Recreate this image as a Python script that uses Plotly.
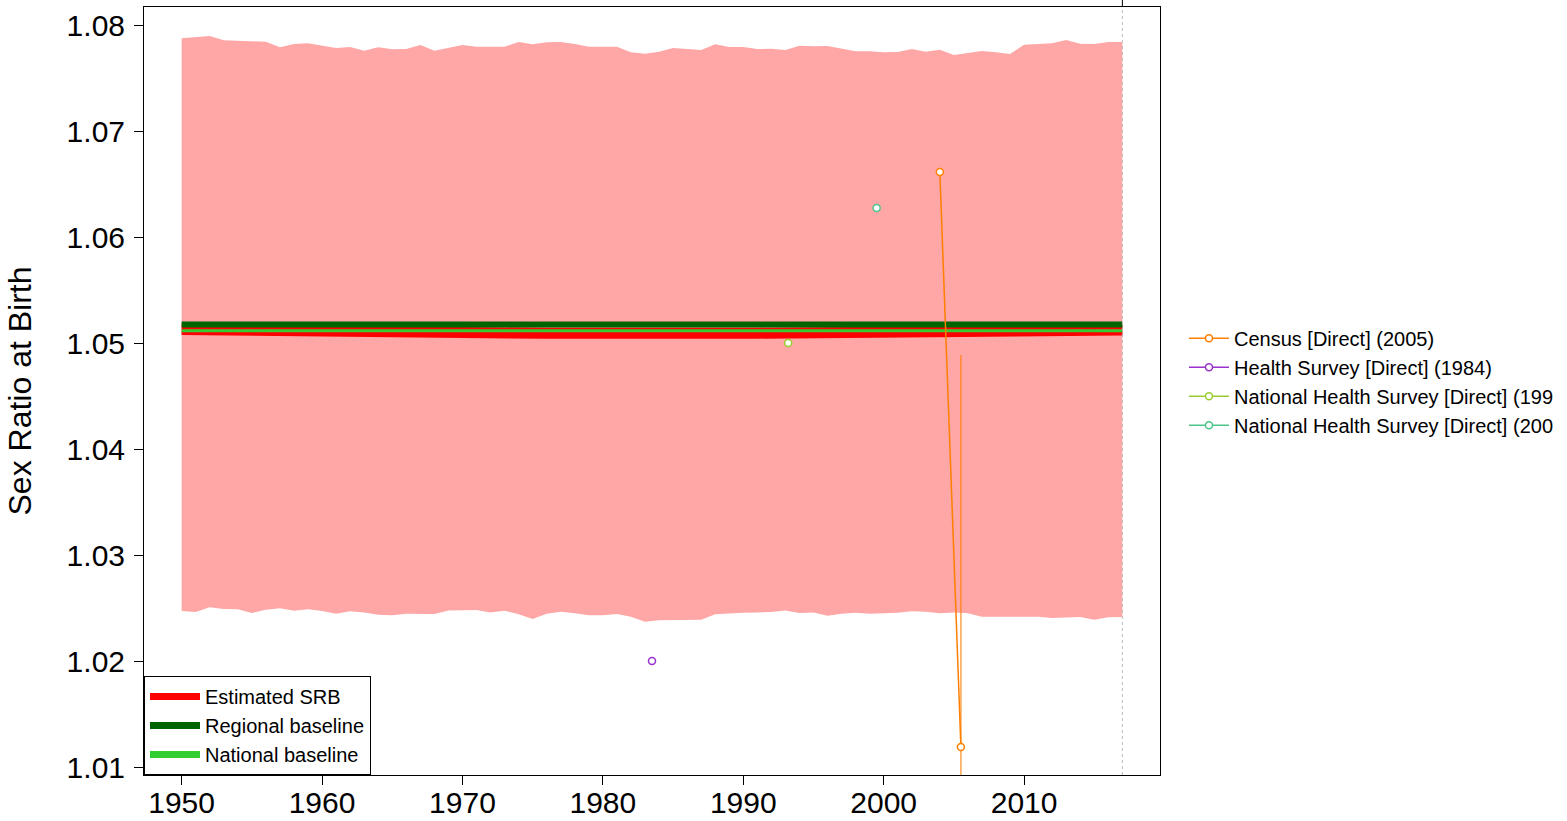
import plotly.graph_objects as go

# ---------------- data ----------------
years = list(range(1950, 2018))

band_upper = [
    1.07875, 1.07885, 1.07896, 1.07856, 1.07850, 1.07849, 1.07842, 1.07790, 1.07821, 1.07827,
    1.07808, 1.07783, 1.07792, 1.07758, 1.07790, 1.07771, 1.07774, 1.07811, 1.07758, 1.07783,
    1.07811, 1.07795, 1.07795, 1.07795, 1.07840, 1.07818, 1.07837, 1.07840, 1.07821, 1.07795,
    1.07795, 1.07795, 1.07742, 1.07729, 1.07748, 1.07783, 1.07774, 1.07764, 1.07818, 1.07792,
    1.07792, 1.07774, 1.07776, 1.07764, 1.07805, 1.07799, 1.07802, 1.07776, 1.07752, 1.07752,
    1.07742, 1.07745, 1.07774, 1.07748, 1.07767, 1.07717, 1.07739, 1.07755, 1.07742, 1.07726,
    1.07814, 1.07821, 1.07827, 1.07858, 1.07824, 1.07821, 1.07840, 1.07840,
]

band_lower = [
    1.02472, 1.02462, 1.02507, 1.02491, 1.02488, 1.02453, 1.02484, 1.02497, 1.02475, 1.02488,
    1.02472, 1.02446, 1.02469, 1.02459, 1.02437, 1.02431, 1.02446, 1.02443, 1.02443, 1.02478,
    1.02478, 1.02481, 1.02459, 1.02475, 1.02441, 1.02396, 1.02446, 1.02465, 1.02450, 1.02431,
    1.02431, 1.02443, 1.02418, 1.02371, 1.02384, 1.02387, 1.02393, 1.02390, 1.02441, 1.02450,
    1.02456, 1.02459, 1.02462, 1.02478, 1.02453, 1.02459, 1.02427, 1.02446, 1.02456, 1.02446,
    1.02450, 1.02456, 1.02469, 1.02465, 1.02450, 1.02459, 1.02450, 1.02418, 1.02418, 1.02418,
    1.02422, 1.02418, 1.02406, 1.02408, 1.02415, 1.02390, 1.02412, 1.02415,
]

estimated_srb = [
    1.05128, 1.05126, 1.05125, 1.05122, 1.05121, 1.05120, 1.05116, 1.05112, 1.05105, 1.05110,
    1.05108, 1.05106, 1.05105, 1.05103, 1.05102, 1.05100, 1.05098, 1.05096, 1.05094, 1.05093,
    1.05092, 1.05093, 1.05094, 1.05093, 1.05091, 1.05090, 1.05092, 1.05093, 1.05091, 1.05090,
    1.05089, 1.05088, 1.05087, 1.05086, 1.05087, 1.05088, 1.05090, 1.05092, 1.05094, 1.05093,
    1.05092, 1.05093, 1.05094, 1.05095, 1.05096, 1.05097, 1.05096, 1.05095, 1.05094, 1.05093,
    1.05094, 1.05095, 1.05096, 1.05095, 1.05094, 1.05093, 1.05094, 1.05096, 1.05098, 1.05100,
    1.05102, 1.05104, 1.05106, 1.05108, 1.05110, 1.05113, 1.05117, 1.05122,
]

regional_baseline = 1.05175
national_baseline = 1.05115

census_years = [2004.0, 2005.5]
census_srb = [1.06613, 1.01189]
census_ci_year = [2005.5, 2005.5]
census_ci = [1.04887, 0.95]

hs1984_years = [1983.5]
hs1984_srb = [1.0200]

nhs199_years = [1993.2]
nhs199_srb = [1.0500]

nhs200_years = [1999.5]
nhs200_srb = [1.06274]

x_ticks = [1950, 1960, 1970, 1980, 1990, 2000, 2010]
y_ticks = [1.01, 1.02, 1.03, 1.04, 1.05, 1.06, 1.07, 1.08]

# ---------------- figure ----------------
FONT = "Arial, Liberation Sans, sans-serif"
fig = go.Figure()

# uncertainty band
fig.add_trace(go.Scatter(x=years, y=band_upper, mode="lines", line=dict(width=0),
                         showlegend=False, hoverinfo="skip"))
fig.add_trace(go.Scatter(x=years, y=band_lower, mode="lines", line=dict(width=0),
                         fill="tonexty", fillcolor="#FFA6A6", showlegend=False, hoverinfo="skip"))

# estimates and baselines (drawn lines)
fig.add_trace(go.Scatter(x=years, y=estimated_srb, mode="lines", showlegend=False,
                         line=dict(color="#FF0000", width=11)))
fig.add_trace(go.Scatter(x=[years[0], years[-1]], y=[regional_baseline] * 2, mode="lines",
                         showlegend=False, line=dict(color="#006400", width=6)))
fig.add_trace(go.Scatter(x=[years[0], years[-1]], y=[national_baseline] * 2, mode="lines",
                         showlegend=False, line=dict(color="#32CD32", width=3)))

# legend keys for the three lines (uniform key thickness as in the reference)
for name, color in [("Estimated SRB", "#FF0000"), ("Regional baseline", "#006400"),
                    ("National baseline", "#32CD32")]:
    fig.add_trace(go.Scatter(x=[None], y=[None], mode="lines", name=name, legend="legend",
                             line=dict(color=color, width=7)))

# data series
def series(xs, ys, name, color):
    return go.Scatter(x=xs, y=ys, mode="lines+markers", name=name, legend="legend2",
                      line=dict(color=color, width=1.5),
                      marker=dict(symbol="circle", size=7, color="white",
                                  line=dict(color=color, width=1.5)))

fig.add_trace(go.Scatter(x=census_ci_year, y=census_ci, mode="lines", showlegend=False,
                         line=dict(color="rgba(255,127,0,0.7)", width=1.5), hoverinfo="skip"))
fig.add_trace(series(census_years, census_srb, "Census [Direct] (2005)", "#FF7F00"))
fig.add_trace(series(hs1984_years, hs1984_srb, "Health Survey [Direct] (1984)", "#9932CC"))
fig.add_trace(series(nhs199_years, nhs199_srb, "National Health Survey [Direct] (199", "#9ACD32"))
fig.add_trace(series(nhs200_years, nhs200_srb, "National Health Survey [Direct] (200", "#4CC38A"))

# end-of-period reference line
fig.add_shape(type="line", xref="x", yref="paper", x0=years[-1], x1=years[-1], y0=0, y1=1,
              line=dict(color="#BBBBBB", width=1, dash="dot"))
fig.add_shape(type="line", xref="x", yref="paper", x0=years[-1], x1=years[-1], y0=1, y1=1.01,
              line=dict(color="black", width=1))

axis_common = dict(showgrid=False, zeroline=False, showline=True, linecolor="black",
                   linewidth=1, mirror=True, ticks="outside", ticklen=9, tickcolor="black",
                   tickfont=dict(family=FONT, size=30, color="black"))

fig.update_layout(
    width=1567, height=821,
    paper_bgcolor="white", plot_bgcolor="white",
    margin=dict(l=144, r=407, t=7, b=46, autoexpand=False),
    xaxis=dict(range=[1947.32, 2019.68], tickvals=x_ticks, ticklabelstandoff=-8, **axis_common),
    yaxis=dict(range=[1.00925, 1.0817], tickvals=y_ticks, tickformat=".2f", ticklabelstandoff=3,
               title=dict(text="Sex Ratio at Birth", font=dict(family=FONT, size=32, color="black"),
                          standoff=25),
               **axis_common),
    legend=dict(x=0, y=0, xanchor="left", yanchor="bottom", bgcolor="white",
                bordercolor="black", borderwidth=1, itemwidth=50, traceorder="normal",
                font=dict(family=FONT, size=20, color="black")),
    legend2=dict(x=1.0236, y=0.512, xanchor="left", yanchor="middle", bgcolor="rgba(0,0,0,0)",
                 borderwidth=0, itemwidth=40, traceorder="normal",
                 font=dict(family=FONT, size=20, color="black")),
    showlegend=True,
)

fig.write_html("out.html", config={"displayModeBar": False},
               post_script="document.body.style.margin='0';")
